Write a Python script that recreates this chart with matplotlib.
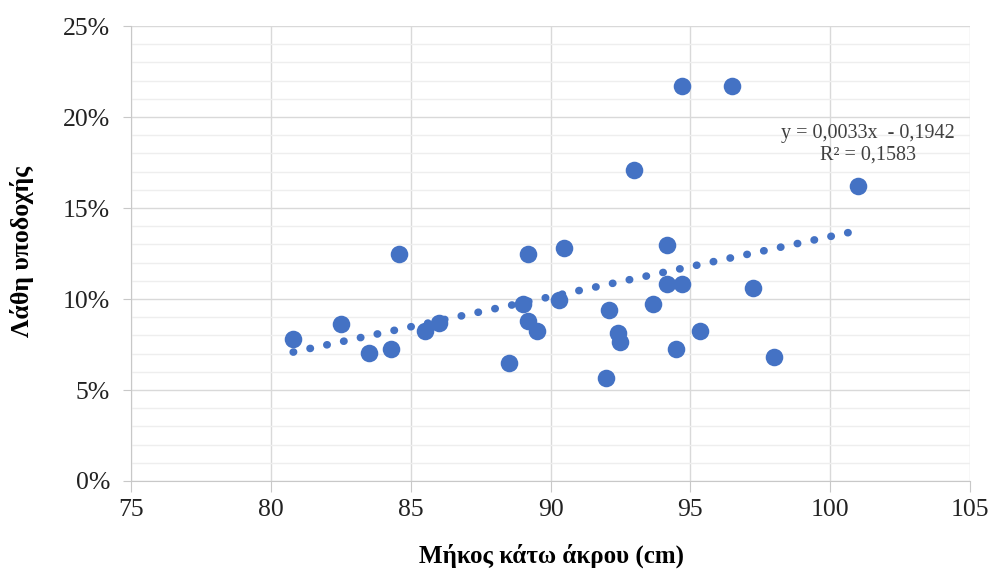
import matplotlib
matplotlib.use("Agg")
import matplotlib.pyplot as plt
import numpy as np
from matplotlib.ticker import MultipleLocator, FuncFormatter

# Μήκος κάτω άκρου (cm) και λάθη υποδοχής (%)
mikos = [80.8, 82.5, 83.5, 84.3, 84.6, 85.5, 86.0, 88.5, 89.0, 89.2,
         89.5, 89.2, 90.3, 90.5, 92.0, 92.1, 92.4, 92.5, 93.0, 93.65,
         94.15, 94.15, 94.5, 94.7, 94.7, 95.35, 96.5, 97.25, 98.0, 101.0]
lathi = [7.8, 8.65, 7.05, 7.25, 12.5, 8.25, 8.7, 6.5, 9.75, 8.8,
         8.25, 12.5, 9.95, 12.8, 5.65, 9.4, 8.15, 7.65, 17.1, 9.7,
         12.95, 10.85, 7.25, 10.8, 21.7, 8.25, 21.7, 10.6, 6.8, 16.2]

eq_text = "y = 0,0033x  - 0,1942\nR² = 0,1583"

serif = ["Liberation Serif", "DejaVu Serif"]
blue = "#4472C4"

x = np.array(mikos)
y = np.array(lathi) / 100
coef = np.polyfit(x, y, 1)

fig = plt.figure(figsize=(9.91, 5.72), dpi=100)
ax = fig.add_axes([0.1322, 0.1591, 0.8466, 0.7954])

ax.scatter(x, y, s=160, color=blue, zorder=3, linewidths=0)

xt = np.array([x.min(), x.max()])
ax.plot(xt, np.polyval(coef, xt), color=blue, lw=5.5,
        linestyle=(0, (0.05, 2.2)), dash_capstyle="round", zorder=2)

ax.set_xlim(75, 105)
ax.set_ylim(0, 0.25)
ax.xaxis.set_major_locator(MultipleLocator(5))
ax.yaxis.set_major_locator(MultipleLocator(0.05))
ax.yaxis.set_minor_locator(MultipleLocator(0.01))
ax.yaxis.set_major_formatter(FuncFormatter(lambda v, p: f"{v * 100:.0f}%"))

ax.grid(which="major", color="#d9d9d9", lw=1)
ax.grid(which="minor", axis="y", color="#eeeeee", lw=1)
ax.set_axisbelow(True)

for s in ["top", "right"]:
    ax.spines[s].set_visible(False)
for s in ["left", "bottom"]:
    ax.spines[s].set_color("#c8c8c8")
ax.tick_params(axis="x", which="major", length=8, color="#c8c8c8",
               labelsize=18.5, pad=5)
ax.tick_params(axis="y", which="major", length=6, color="#c8c8c8",
               labelsize=18.5, pad=9)
ax.tick_params(which="minor", length=0)
for lab in ax.get_xticklabels() + ax.get_yticklabels():
    lab.set_family(serif)
    lab.set_color("#222222")

ax.text(101.35, 0.185, eq_text, family=serif, fontsize=14.5,
        color="#404040", ha="center", va="center", linespacing=1.15)

fig.text(0.557, 0.028, "Μήκος κάτω άκρου (cm)", family=serif,
         fontsize=18, fontweight="bold", ha="center", va="center")
fig.text(0.022, 0.56, "Λάθη υποδοχής", family=serif, fontsize=18.5,
         fontweight="bold", ha="center", va="center", rotation=90)

fig.savefig("out.png", dpi=100, facecolor="white")
